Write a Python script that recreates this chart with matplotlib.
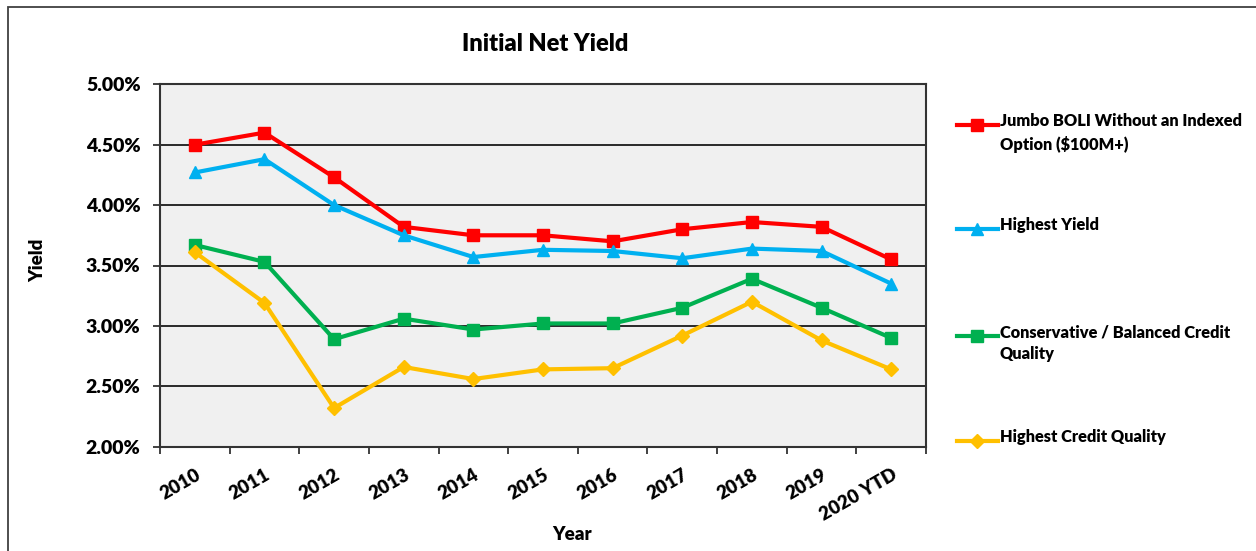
import matplotlib
matplotlib.use("Agg")
import matplotlib.pyplot as plt
from matplotlib.lines import Line2D
from matplotlib.patches import Rectangle
from matplotlib.ticker import FixedLocator, PercentFormatter

plt.rcParams['font.family'] = ['Lato', 'DejaVu Sans']
WT = 'heavy'
plt.rcParams['font.weight'] = WT

years = ["2010", "2011", "2012", "2013", "2014", "2015", "2016", "2017", "2018", "2019", "2020 YTD"]
jumbo = [4.50, 4.60, 4.23, 3.82, 3.75, 3.75, 3.70, 3.80, 3.86, 3.82, 3.55]
highest_yield = [4.27, 4.38, 4.00, 3.75, 3.57, 3.63, 3.62, 3.56, 3.64, 3.62, 3.35]
conservative = [3.67, 3.53, 2.89, 3.06, 2.97, 3.02, 3.02, 3.15, 3.39, 3.15, 2.90]
highest_credit = [3.61, 3.19, 2.32, 2.66, 2.56, 2.64, 2.65, 2.92, 3.20, 2.88, 2.64]

labels = ["Jumbo BOLI Without an Indexed\nOption ($100M+)", "Highest Yield",
          "Conservative / Balanced Credit\nQuality", "Highest Credit Quality"]
colors = ["#FF0000", "#00B0F0", "#00B050", "#FFC000"]
markers = ["s", "^", "s", "D"]
msizes = [9, 9, 9, 7]
series = [jumbo, highest_yield, conservative, highest_credit]

W, H = 1256, 551
fig = plt.figure(figsize=(W / 100, H / 100), dpi=100)

def fx(px):
    return px / W

def fy(py):
    return 1 - py / H

# outer frame
fig.add_artist(Rectangle((fx(8), fy(560)), fx(1300), (560 - 7) / H,
                         transform=fig.transFigure, fill=False, edgecolor="#404040",
                         linewidth=1.3, clip_on=False))

L, R, T, B = 160, 926, 84.3, 446.7
ax = fig.add_axes([fx(L), fy(B), fx(R - L), (B - T) / H])
ax.set_facecolor("#F0F0F0")

x = list(range(len(years)))
for vals, c, m, ms in zip(series, colors, markers, msizes):
    ax.plot(x, vals, color=c, linewidth=3, marker=m, markersize=ms,
            markeredgecolor=c, markerfacecolor=c, zorder=3)

ax.set_xlim(-0.5, len(years) - 0.5)
ax.set_ylim(2.0, 5.0)
ax.yaxis.set_major_locator(FixedLocator([2.0, 2.5, 3.0, 3.5, 4.0, 4.5, 5.0]))
ax.yaxis.set_major_formatter(PercentFormatter(decimals=2))
ax.grid(axis="y", color="#1a1a1a", linewidth=1.3, zorder=1)
ax.set_axisbelow(True)

ax.set_xticks(x)
ax.set_xticklabels(years, rotation=30, ha="right", va="top", rotation_mode="anchor")
ax.set_xticks([i - 0.5 for i in range(len(years) + 1)], minor=True)
ax.tick_params(axis="x", which="major", length=0, pad=14, labelsize=13.5)
ax.tick_params(axis="x", which="minor", length=5, width=1.3, color="#333333")
ax.tick_params(axis="y", which="major", length=5, width=1.3, color="#333333",
               pad=9, labelsize=14)
for lab in ax.get_xticklabels() + ax.get_yticklabels():
    lab.set_fontweight(WT)

for sp in ax.spines.values():
    sp.set_color("#333333")
    sp.set_linewidth(1.5)

fig.text(fx(545), fy(44), "Initial Net Yield", ha="center", va="center",
         fontsize=17, fontweight=WT)
fig.text(fx(38), fy(260), "Yield", ha="center", va="center", rotation=90,
         fontsize=13.5, fontweight=WT)
fig.text(fx(572), fy(534), "Year", ha="center", va="center",
         fontsize=13.5, fontweight=WT)

# legend drawn manually to mimic first-line alignment
leg_y = [125, 229, 336, 441]
for lab, c, m, ms, yy in zip(labels, colors, markers, msizes, leg_y):
    fig.add_artist(Line2D([fx(957), fx(998)], [fy(yy), fy(yy)], color=c, linewidth=3,
                          transform=fig.transFigure))
    fig.add_artist(Line2D([fx(977)], [fy(yy)], color=c, marker=m, markersize=ms,
                          markeredgecolor=c, markerfacecolor=c, linestyle="none",
                          transform=fig.transFigure))
    fig.text(fx(1000), fy(yy - 12), lab, ha="left", va="top", fontsize=11.8,
             fontweight=WT, linespacing=1.5)

fig.savefig("out.png", dpi=100, facecolor="white")
